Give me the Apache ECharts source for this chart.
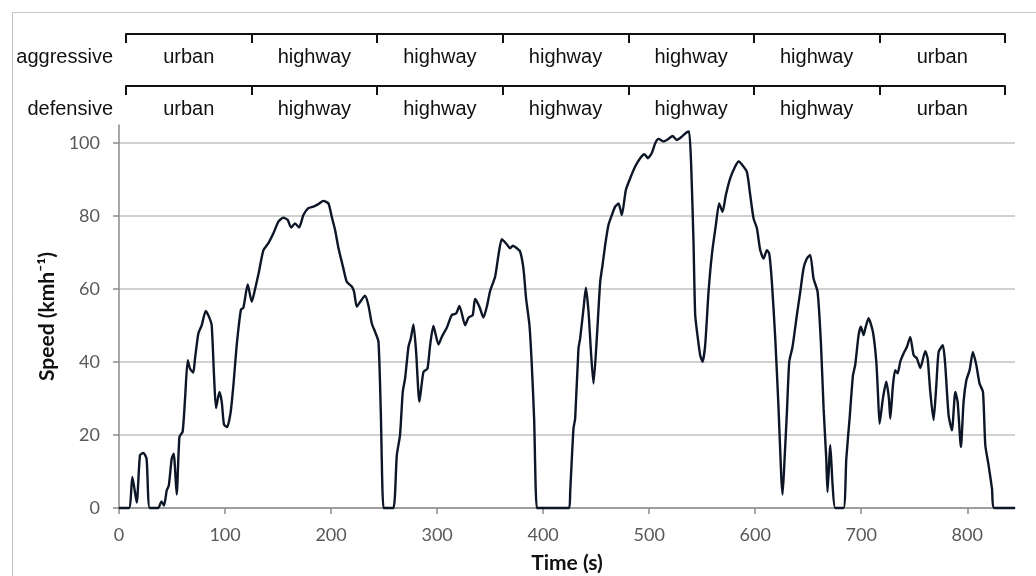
<!DOCTYPE html>
<html>
<head>
<meta charset="utf-8">
<script src="https://cdn.jsdelivr.net/npm/echarts@6/dist/echarts.min.js"></script>
<style>html,body{margin:0;padding:0;background:#fff;}#chart{width:1036px;height:576px;}</style>
</head>
<body>
<div id="chart"></div>
<script>
// ---- data ----
const timeS = [
  0, 9.4, 12.6, 16.7, 19.8, 23, 26, 29, 37, 40, 42.5, 45, 47, 49.7, 51.6, 54.4, 57, 60, 62.3, 64.8,
  67, 70, 71.7, 74.8, 78, 81.8, 84.9, 87.4, 89.6, 91.5, 94.7, 96.9, 99, 102, 105.3, 107.9, 111, 115, 117.3, 121.4,
  125.2, 128.3, 132, 136.2, 140.9, 145.6, 150.3, 155, 159, 162.3, 166, 169.8, 173.9, 178.6, 183.3, 188, 192.8, 197.5, 200.6, 203.8,
  207, 211.6, 214.8, 219.5, 221.7, 224.2, 227.4, 232, 235.2, 238.4, 241.5, 244.7, 246.9, 249.4, 252.5, 258.8, 262, 265, 267.6, 269.8,
  273, 275.2, 277.7, 280.2, 283.3, 287.1, 290.9, 293.4, 296.5, 301.3, 304.4, 309.1, 313.8, 317.9, 321.1, 326.4, 329.6, 333.6, 335.8, 339.9,
  343.7, 346.9, 350, 354.7, 357.9, 361, 365.7, 368.9, 371.4, 375.2, 378.3, 381.4, 383.9, 387.1, 389.3, 391.5, 394, 397.2, 424.5, 425.5,
  428.6, 430.2, 433.3, 434.9, 438.1, 440.3, 442.8, 445.3, 447.5, 450.6, 453.8, 456, 458.5, 461.6, 464.8, 467.9, 471.1, 474.2, 478, 482.1,
  486.8, 491.5, 495.6, 498.7, 502.5, 505.7, 508.8, 513.5, 518.2, 522, 526.1, 530.8, 535.5, 537.7, 539.6, 541.8, 543.4, 545.9, 548.1, 550.3,
  552.8, 556, 559.1, 562.9, 566, 569.2, 572.3, 576.4, 581.1, 584.3, 587.4, 592.1, 595.3, 598.4, 601.6, 604.7, 607.9, 611, 613.2, 615.7,
  618.9, 622, 624.5, 625.8, 627.7, 629.9, 632.1, 635.2, 639.3, 642.5, 645.6, 648.7, 651.9, 655, 658.8, 661.9, 664.5, 667, 668.2, 670.8,
  673, 675.5, 683.3, 685.9, 689, 692.2, 694.3, 697.5, 699.7, 702.2, 703.8, 706.9, 711, 714.2, 715.7, 717.3, 720.4, 723.6, 726.1, 727.4,
  729.9, 732, 734.3, 736.8, 740, 743.1, 746.2, 749.4, 752.5, 755.7, 760.4, 762.6, 765.1, 768.2, 770.8, 773, 777, 779.2, 782.4, 785.5,
  788.7, 790.9, 794, 796.5, 799.1, 802.2, 805.3, 808.5, 811.6, 814.8, 817, 820.1, 823.3, 825.5, 845
];
const speedKmh = [
  0, 0, 8.5, 1.5, 14.5, 15.1, 13.5, 0, 0, 1.8, 0.7, 4.8, 6.2, 13.5, 14.9, 3.7, 19.5, 20.9, 30, 40.5,
  38.2, 37.1, 41, 47.8, 50.1, 54, 52.4, 50.1, 36.4, 27.4, 31.8, 29.1, 22.9, 22.2, 26.3, 33.7, 44.6, 54.4, 54.9, 61.3,
  56.5, 60, 64.8, 70.7, 72.6, 75.3, 78.5, 79.6, 79, 76.9, 78, 76.9, 80.3, 82.2, 82.6, 83.3, 84.2, 83.5, 79.9, 76.2,
  71.2, 65.7, 62, 60.7, 59.3, 55.2, 56.5, 58.2, 55.6, 50.6, 48.3, 45.6, 26.3, 0, 0, 0, 14.5, 19.9, 31.8, 35.5,
  44.2, 46.5, 50.3, 42.8, 29.1, 37.3, 38.2, 44.6, 49.9, 44.8, 46.9, 49.4, 52.9, 53.3, 55.4, 50.1, 52.2, 52.9, 57.3, 55.2,
  52.2, 55.2, 59.5, 63.4, 69.4, 73.7, 72.3, 71.2, 71.9, 71.2, 70.3, 65.7, 57.5, 50.1, 39.2, 24.5, 0, 0, 0, 4.4,
  21.8, 24.5, 43.7, 46.5, 54.7, 60.4, 53.8, 41.9, 34.1, 46.5, 62, 66.6, 72.1, 77.6, 80.3, 82.6, 83.5, 80.3, 87.2, 90.4,
  93.6, 95.9, 97, 95.9, 97.3, 100, 101.2, 100.5, 101.2, 102, 100.9, 101.8, 103, 103.2, 94, 73, 52.9, 46.5, 41.9, 40.1,
  44.6, 59.3, 69.4, 77.6, 83.5, 81.2, 85.8, 90.4, 93.6, 95, 94.2, 92.2, 85.8, 79.4, 76.7, 70.7, 68.4, 70.7, 69.8, 62,
  46.5, 27.3, 9, 3.7, 13.5, 26.3, 40.1, 44.2, 52.9, 59.3, 65.7, 68.4, 69.4, 62.9, 59.3, 45.6, 27.3, 13.5, 4.4, 17.2,
  6.2, 0, 0, 13.5, 24.5, 36.4, 39.2, 47.4, 49.7, 47.4, 49.2, 52, 48.3, 40.1, 31.8, 23.1, 30, 34.6, 30, 24.5,
  33.7, 37.8, 36.9, 40.1, 42.4, 44.2, 46.9, 41.9, 41, 38.4, 43, 41, 31.8, 24.1, 33.7, 42.8, 44.6, 39.2, 25.4, 21.3,
  31.8, 29.1, 16.7, 29.1, 35, 37.8, 42.8, 39.2, 34.1, 31.8, 17.2, 11.7, 5.3, 0, 0
];
const xTicks = [0, 100, 200, 300, 400, 500, 600, 700, 800];
const yTicks = [0, 20, 40, 60, 80, 100];
const aggressiveSegments = ['urban', 'highway', 'highway', 'highway', 'highway', 'highway', 'urban'];
const defensiveSegments = ['urban', 'highway', 'highway', 'highway', 'highway', 'highway', 'urban'];
const rowNames = ['aggressive', 'defensive'];
const xMax = 845, yMax = 105;

const seriesData = timeS.map((t, i) => [t, speedKmh[i]]);

const tickFont = { fontFamily: 'Lato', fontSize: 18, color: '#595959' };
const headerFont = { fontFamily: 'Liberation Sans', fontSize: 20, color: '#111' };

function headerX(grid, data) {
  return {
    type: 'category', gridIndex: grid, position: 'top', data: data, boundaryGap: true,
    axisLine: { show: true, lineStyle: { color: '#111', width: 2 } },
    axisTick: { show: true, inside: true, length: 9, alignWithLabel: false, lineStyle: { color: '#111', width: 2 } },
    axisLabel: Object.assign({ inside: true, margin: 13, interval: 0 }, headerFont),
    splitLine: { show: false }
  };
}
function headerY(grid, name) {
  return {
    type: 'category', gridIndex: grid, data: [name],
    axisLine: { show: false }, axisTick: { show: false }, splitLine: { show: false },
    axisLabel: Object.assign({ margin: 13, align: 'right', padding: [4, 0, 0, 0] }, headerFont)
  };
}

const chart = echarts.init(document.getElementById('chart'), null, { renderer: 'canvas' });
chart.setOption({
  animation: false,
  backgroundColor: '#fff',
  graphic: [{
    type: 'rect', left: 10, top: 10, shape: { width: 1040, height: 580 },
    style: { fill: 'none', stroke: '#c4c4c4', lineWidth: 1 }, silent: true, z: -1
  }],
  grid: [
    { left: 119, right: 21, top: 125, bottom: 68, containLabel: false, outerBoundsMode: 'none' },
    { left: 126, right: 31, top: 34, height: 46, outerBoundsMode: 'none' },
    { left: 126, right: 31, top: 86, height: 46, outerBoundsMode: 'none' }
  ],
  xAxis: [
    {
      type: 'value', gridIndex: 0, min: 0, max: xMax, interval: 100,
      name: 'Time (s)', nameLocation: 'middle', nameGap: 45,
      nameTextStyle: { fontFamily: 'Lato', fontWeight: 'bold', fontSize: 21, color: '#111' },
      axisLine: { show: true, onZero: false, lineStyle: { color: '#8c8c8c', width: 1.5 } },
      axisTick: { show: true, length: 6, customValues: xTicks, lineStyle: { color: '#8c8c8c', width: 1.5 } },
      axisLabel: Object.assign({ margin: 18, customValues: xTicks }, tickFont),
      splitLine: { show: false }
    },
    headerX(1, aggressiveSegments),
    headerX(2, defensiveSegments)
  ],
  yAxis: [
    {
      type: 'value', gridIndex: 0, min: 0, max: yMax, interval: 20,
      name: 'Speed (kmh⁻¹)', nameLocation: 'middle', nameGap: 58,
      nameTextStyle: { fontFamily: 'Lato', fontWeight: 'bold', fontSize: 21, color: '#111' },
      axisLine: { show: true, lineStyle: { color: '#8c8c8c', width: 1.5 } },
      axisTick: { show: true, length: 6, customValues: yTicks, lineStyle: { color: '#8c8c8c', width: 1.5 } },
      axisLabel: Object.assign({ margin: 19, customValues: yTicks }, tickFont),
      splitLine: { show: true, lineStyle: { color: ['#c2c2c2', '#c2c2c2', '#c2c2c2', '#c2c2c2', '#c2c2c2', '#c2c2c2', 'rgba(0,0,0,0)'], width: 1.5 } }
    },
    headerY(1, rowNames[0]),
    headerY(2, rowNames[1])
  ],
  series: [{
    type: 'line', xAxisIndex: 0, yAxisIndex: 0, data: seriesData,
    showSymbol: false, smooth: 0.2, clip: false,
    lineStyle: { color: '#0d1626', width: 2.4 }
  }]
});
</script>
</body>
</html>
